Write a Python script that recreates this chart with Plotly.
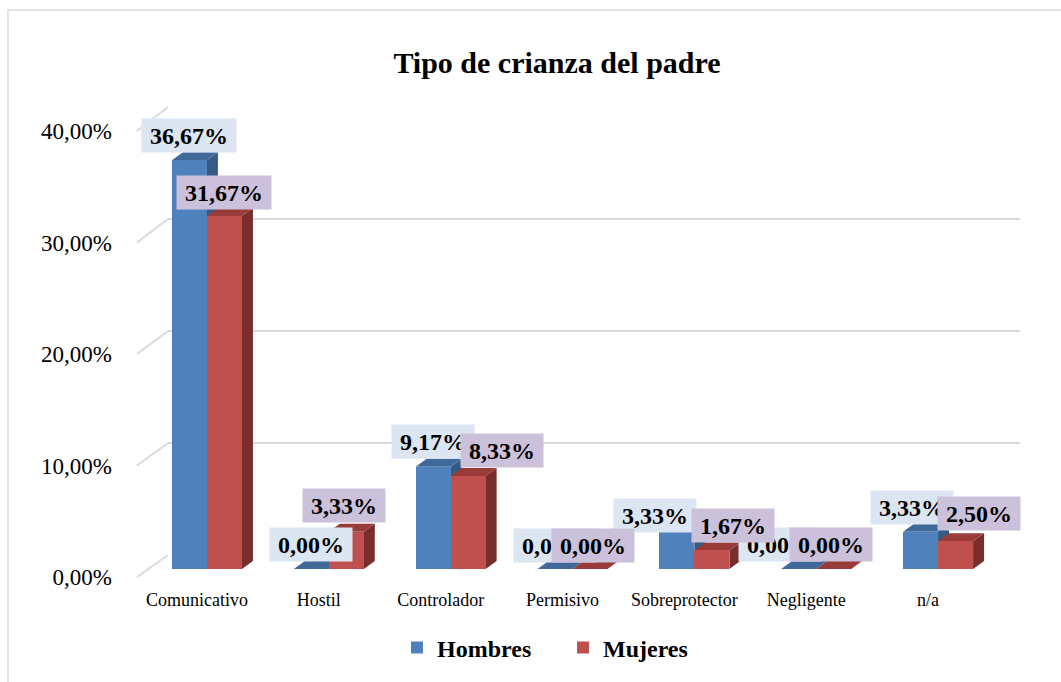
import plotly.graph_objects as go

# ---------------- data ----------------
categories = ["Comunicativo", "Hostil", "Controlador", "Permisivo",
              "Sobreprotector", "Negligente", "n/a"]
hombres = [36.67, 0.00, 9.17, 0.00, 3.33, 0.00, 3.33]
mujeres = [31.67, 3.33, 8.33, 0.00, 1.67, 0.00, 2.50]
y_tickvals = [0, 10, 20, 30, 40]
y_ticktext = ["0,00%", "10,00%", "20,00%", "30,00%", "40,00%"]
title_text = "Tipo de crianza del padre"
series_names = ["Hombres", "Mujeres"]

# ---------------- styling ----------------
W, H = 1061, 682
FONT = "Liberation Serif"
BLUE, BLUE_TOP, BLUE_SIDE = "#4F81BD", "#40699A", "#355A86"
RED, RED_TOP, RED_SIDE = "#C0504D", "#983B39", "#7A2E2C"
BLUE_LBL, RED_LBL = "#DCE6F2", "#CCC1DA"
GRID = "#D9D9D9"

# label placement nudges (pixels) as laid out in the original chart
lbl_dx_h = [0, 0, 0, 0, -22, -19, -9]
lbl_dx_m = [0, -2, 34, 3, 21, -3, 23]
lbl_dy_h = [7, 7, 8, 6, -1, 7, 7]
lbl_dy_m = [6, 9, 8, 6, 7, 7, 10]


def px(x):
    return x / W


def py(y):
    return 1 - y / H


# bar subplot geometry (pixels)
BX0, BX1 = 146, 999          # x-domain of bar axis
BY0, BY40 = 569, 123         # pixel y of 0 and 40 for the bars
GX0, GX1 = 168, 1020         # back-wall grid
GY0, GY40 = 555, 107

n = len(categories)
cat_px = (BX1 - BX0) / n
val_px = (BY0 - BY40) / 40.0
bw = 35 / cat_px             # bar width in data units
ddx = 11 / cat_px            # depth offsets in data units
ddy = 8 / val_px

idx = list(range(n))

fig = go.Figure()

# dummy trace for grid subplot
fig.add_trace(go.Scatter(x=[0], y=[0], xaxis="x", yaxis="y", mode="markers",
                         marker=dict(opacity=0), showlegend=False, hoverinfo="skip"))

for name, vals, col, off in [(series_names[0], hombres, BLUE, -bw),
                             (series_names[1], mujeres, RED, 0.0)]:
    fig.add_trace(go.Bar(x=idx, y=vals, name=name, xaxis="x2", yaxis="y2",
                         width=bw, offset=off,
                         marker=dict(color=col, line=dict(width=0))))

shapes = []
# 3D faces
for vals, off, top, side in [(hombres, -bw, BLUE_TOP, BLUE_SIDE),
                             (mujeres, 0.0, RED_TOP, RED_SIDE)]:
    for i, v in enumerate(vals):
        x0 = i + off
        x1 = x0 + bw
        shapes.append(dict(type="path", xref="x2", yref="y2", layer="below",
                           path=f"M{x1},0 L{x1},{v} L{x1+ddx},{v+ddy} L{x1+ddx},{ddy} Z",
                           fillcolor=side, line=dict(width=0)))
        shapes.append(dict(type="path", xref="x2", yref="y2", layer="below",
                           path=f"M{x0},{v} L{x1},{v} L{x1+ddx},{v+ddy} L{x0+ddx},{v+ddy} Z",
                           fillcolor=top, line=dict(width=0)))

# side wall diagonals
for v in y_tickvals:
    yf = BY0 + 8 - v * val_px
    yb = GY0 - v * (GY0 - GY40) / 40.0
    shapes.append(dict(type="line", xref="paper", yref="paper",
                       x0=px(137), y0=py(yf), x1=px(GX0), y1=py(yb),
                       line=dict(color=GRID, width=2)))

# outer border
shapes.append(dict(type="rect", xref="paper", yref="paper",
                   x0=px(8), y0=-0.05, x1=1.05, y1=py(10),
                   line=dict(color=GRID, width=1.5), fillcolor="rgba(0,0,0,0)"))

annotations = []
for vals, off, bg, dxs, dys in [(hombres, -bw / 2, BLUE_LBL, lbl_dx_h, lbl_dy_h),
                                (mujeres, bw / 2, RED_LBL, lbl_dx_m, lbl_dy_m)]:
    for i, v in enumerate(vals):
        txt = "\u00a0" + f"{v:.2f}%".replace(".", ",") + "\u00a0"
        annotations.append(dict(x=i + off, y=v, xref="x2", yref="y2",
                                text=txt, showarrow=False, yanchor="bottom",
                                xshift=dxs[i], yshift=dys[i],
                                bgcolor=bg, borderpad=2, height=29,
                                font=dict(family=FONT, size=24, color="black",
                                          weight="bold")))

fig.update_layout(
    width=W, height=H,
    margin=dict(l=0, r=0, t=0, b=0, pad=0, autoexpand=False),
    paper_bgcolor="white", plot_bgcolor="rgba(0,0,0,0)",
    title=dict(text=title_text, x=px(557), y=py(62), xanchor="center",
               yanchor="middle",
               font=dict(family=FONT, size=30, color="black", weight="bold")),
    xaxis=dict(domain=[px(GX0), px(GX1)], range=[0, 1], visible=False,
               anchor="y"),
    yaxis=dict(domain=[py(GY0), py(GY40)], range=[0, 40], dtick=10,
               showgrid=True, gridcolor=GRID, gridwidth=2, zeroline=False,
               showticklabels=False, showline=False, anchor="x"),
    xaxis2=dict(domain=[px(BX0), px(BX1)], range=[-0.5, n - 0.5],
                tickvals=idx, ticktext=categories, showgrid=False,
                zeroline=False, showline=False, ticks="", anchor="y2",
                ticklabelshift=-10, ticklabelstandoff=18,
                tickfont=dict(family=FONT, size=18, color="black")),
    yaxis2=dict(domain=[py(BY0), py(BY40)], range=[0, 40],
                tickvals=y_tickvals, ticktext=y_ticktext, showgrid=False,
                zeroline=False, showline=False, ticks="", anchor="x2",
                ticklabelshift=8, ticklabelstandoff=33,
                tickfont=dict(family=FONT, size=23, color="black")),
    showlegend=True,
    legend=dict(orientation="h", x=px(563), y=py(648), xanchor="center",
                yanchor="middle", entrywidth=121, entrywidthmode="pixels",
                font=dict(family=FONT, size=24, color="black", weight="bold"),
                bgcolor="rgba(0,0,0,0)"),
    shapes=shapes,
    annotations=annotations,
    bargap=0,
)

fig.write_html("out.html",
               config={"displayModeBar": False},
               post_script="document.body.style.margin='0px';"
                           "document.body.style.padding='0px';")
